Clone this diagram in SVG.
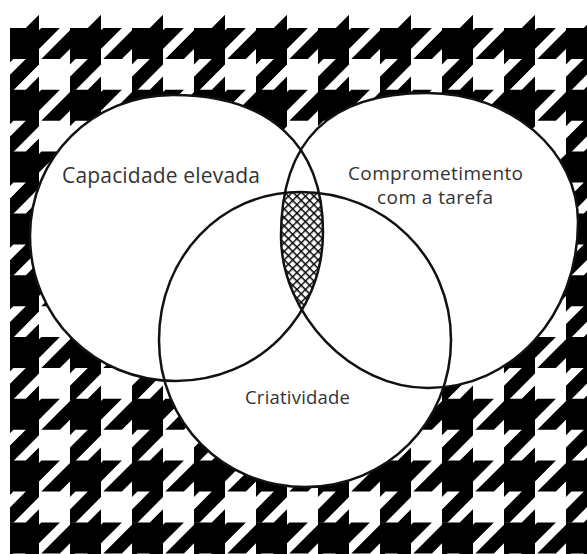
<svg xmlns="http://www.w3.org/2000/svg" xmlns:xlink="http://www.w3.org/1999/xlink" width="587" height="554" viewBox="0 0 587 554">
<style>
.ring{fill:none;stroke:#111;stroke-width:2.5}
.lbl{font-family:"Open Sans","Noto Sans","Liberation Sans",sans-serif;fill:#333;text-anchor:middle}
</style>
<defs>
<path id="m" d="M0,0 L17.8,0 L31,-13.2 L31,0 L31,2.3 L33.3,0 L51.9,0 L31,20.9 L31,36.4 L5.4,62.2 L0,62.2 L0,48.8 L17.8,31 L5.4,31 L0,36.4 L0,20.9 L-10.1,31 L-28.7,31 L0,2.3 Z" fill="#000"/>
<g id="row">
<use xlink:href="#m" x="8"/><use xlink:href="#m" x="70"/><use xlink:href="#m" x="132"/><use xlink:href="#m" x="194"/><use xlink:href="#m" x="256"/><use xlink:href="#m" x="318"/><use xlink:href="#m" x="380"/><use xlink:href="#m" x="442"/><use xlink:href="#m" x="504"/><use xlink:href="#m" x="566"/>
</g>
<clipPath id="bgclip"><rect x="10" y="0" width="577" height="554"/></clipPath>
<pattern id="hatch" width="6" height="6" patternUnits="userSpaceOnUse" patternTransform="rotate(45)">
<rect width="6" height="6" fill="#fff"/>
<path d="M0,0H6M0,0V6" stroke="#000" stroke-width="2.8"/>
</pattern>
<path id="pA" d="M30,236 C30,157 92.9,95 173,95 C269,95 323,144.3 323,232 C323,315.4 258.3,381 176,381 C94.2,381 30,317.2 30,236 Z"/>
<path id="pB" d="M281,236 C281,140.2 329.2,93 427,93 C511.6,93 578,151.1 578,222 C578,316.3 512,388 428,388 C351.6,388 281,315 281,236 Z"/>
<path id="pC" d="M159,340 C159,257.1 221,192 300,192 C384.6,192 451,257.1 451,340 C451,422.3 386.8,487 305,487 C223.2,487 159,422.3 159,340 Z"/>
<clipPath id="cA"><use xlink:href="#pA"/></clipPath>
<clipPath id="cB"><use xlink:href="#pB"/></clipPath>
<clipPath id="cC"><use xlink:href="#pC"/></clipPath>
</defs>
<rect width="587" height="554" fill="#fff"/>
<g id="background" clip-path="url(#bgclip)">
<use xlink:href="#row" y="28"/><use xlink:href="#row" y="89.8"/><use xlink:href="#row" y="151.6"/><use xlink:href="#row" y="213.4"/><use xlink:href="#row" y="275.2"/><use xlink:href="#row" y="337"/><use xlink:href="#row" y="398.8"/><use xlink:href="#row" y="460.6"/><use xlink:href="#row" y="522.4"/>
</g>
<g id="fills" fill="#fff">
<use xlink:href="#pA"/><use xlink:href="#pB"/><use xlink:href="#pC"/>
</g>
<g id="overlap" clip-path="url(#cA)"><g clip-path="url(#cB)"><rect x="150" y="100" width="300" height="300" fill="url(#hatch)" clip-path="url(#cC)"/></g></g>
<g id="capacidade">
<use class="ring" xlink:href="#pA"/>
<text class="lbl" x="161" y="183" font-size="21" textLength="198">Capacidade elevada</text>
</g>
<g id="comprometimento">
<use class="ring" xlink:href="#pB"/>
<text class="lbl" x="435.5" y="179.5" font-size="19" textLength="175">Comprometimento</text>
<text class="lbl" x="435" y="203.5" font-size="19" textLength="116">com a tarefa</text>
</g>
<g id="criatividade">
<use class="ring" xlink:href="#pC"/>
<text class="lbl" x="297.5" y="404" font-size="18.5" textLength="105">Criatividade</text>
</g>
</svg>
